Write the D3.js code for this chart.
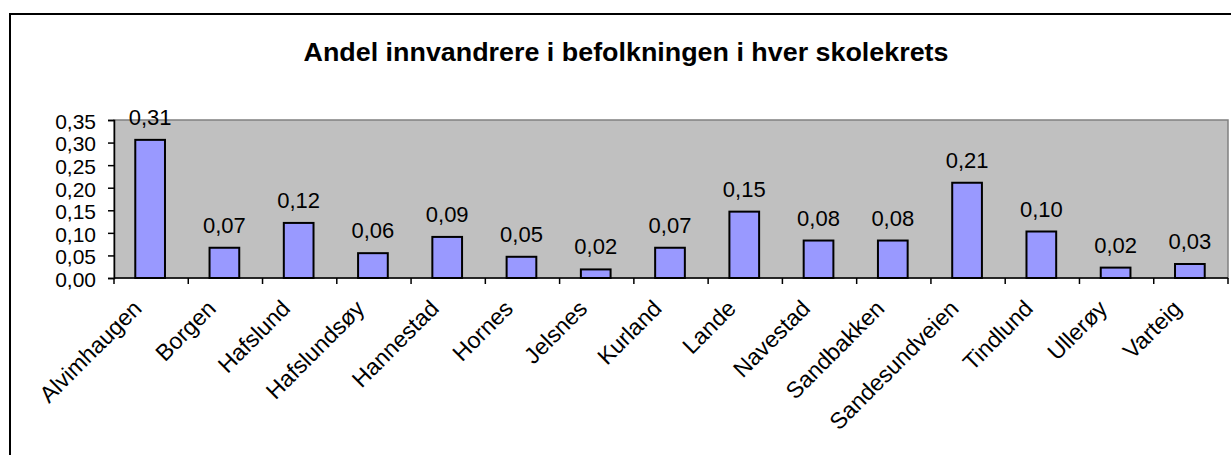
<!DOCTYPE html>
<html>
<head>
<meta charset="utf-8">
<script src="https://cdn.jsdelivr.net/npm/d3@7"></script>
<style>
  body { margin: 0; background: #fff; }
  svg text { font-family: "Liberation Sans", Arial, sans-serif; fill: #000; }
</style>
</head>
<body>
<div id="chart"></div>
<script>
// --------- data ---------- //
var categories = ["Alvimhaugen", "Borgen", "Hafslund", "Hafslundsøy", "Hannestad", "Hornes",
  "Jelsnes", "Kurland", "Lande", "Navestad", "Sandbakken", "Sandesundveien", "Tindlund", "Ullerøy", "Varteig"];
var values = [0.306, 0.067, 0.122, 0.055, 0.091, 0.047, 0.019, 0.067, 0.147, 0.083, 0.083, 0.211, 0.103, 0.023, 0.031];
var yTicks = [0, 0.05, 0.10, 0.15, 0.20, 0.25, 0.30, 0.35];
var title = "Andel innvandrere i befolkningen i hver skolekrets";

var W = 1231, H = 455;
var plot = { left: 114, right: 1228, top: 120, bottom: 278 };

function fmt(v) { return d3.format(".2f")(v).replace(".", ","); }

var svg = d3.select("#chart").append("svg")
  .attr("width", W).attr("height", H);

// outer chart frame (runs off the right / bottom edges)
svg.append("rect")
  .attr("x", 10).attr("y", 14)
  .attr("width", 1400).attr("height", 600)
  .attr("fill", "#fff").attr("stroke", "#000").attr("stroke-width", 2);

svg.append("text")
  .attr("x", 626).attr("y", 61)
  .attr("text-anchor", "middle")
  .attr("font-size", 25).attr("font-weight", "bold")
  .attr("textLength", 645).attr("lengthAdjust", "spacingAndGlyphs")
  .text(title);

var x = d3.scaleBand().domain(categories).range([plot.left, plot.right]).padding(0);
var y = d3.scaleLinear().domain([0, 0.35]).range([plot.bottom, plot.top]);

// plot area
svg.append("rect")
  .attr("x", plot.left).attr("y", plot.top)
  .attr("width", plot.right - plot.left).attr("height", plot.bottom - plot.top)
  .attr("fill", "#c0c0c0").attr("stroke", "#808080").attr("stroke-width", 1.5);

var bw = x.bandwidth() * 0.4;

svg.selectAll("rect.bar").data(values).enter().append("rect")
  .attr("class", "bar")
  .attr("x", function(d, i){ return x(categories[i]) + x.bandwidth() / 2 - bw / 2 - 1; })
  .attr("y", function(d){ return y(d); })
  .attr("width", bw)
  .attr("height", function(d){ return y(0) - y(d); })
  .attr("fill", "#9999ff").attr("stroke", "#000").attr("stroke-width", 2);

svg.selectAll("text.val").data(values).enter().append("text")
  .attr("class", "val")
  .attr("x", function(d, i){ return x(categories[i]) + x.bandwidth() / 2 - 1; })
  .attr("y", function(d){ return y(d) - 15; })
  .attr("text-anchor", "middle")
  .attr("font-size", 22)
  .text(fmt);

// y axis
var yAxis = d3.axisLeft(y).tickValues(yTicks).tickSize(6).tickPadding(12).tickFormat(fmt);
var gy = svg.append("g").attr("transform", "translate(" + plot.left + ",0)").call(yAxis);
gy.select(".domain").attr("stroke", "#000").attr("stroke-width", 1.5);
gy.selectAll(".tick line").attr("stroke", "#000").attr("stroke-width", 1.5);
gy.selectAll(".tick text").attr("font-size", 21).attr("font-family", "Liberation Sans, Arial, sans-serif").attr("dy", "0.4em");

// x axis: ticks between categories
var gx = svg.append("g").attr("transform", "translate(0," + plot.bottom + ")");
gx.append("line")
  .attr("x1", plot.left).attr("x2", plot.right)
  .attr("stroke", "#000").attr("stroke-width", 1.5);
var edges = categories.map(function(c){ return x(c); }).concat([plot.right]);
gx.selectAll("line.tk").data(edges).enter().append("line")
  .attr("class", "tk")
  .attr("x1", function(d){ return d; }).attr("x2", function(d){ return d; })
  .attr("y1", 0).attr("y2", 6)
  .attr("stroke", "#000").attr("stroke-width", 1.5);

gx.selectAll("text.cat").data(categories).enter().append("text")
  .attr("class", "cat")
  .attr("text-anchor", "end")
  .attr("font-size", 23)
  .attr("transform", function(d){
    return "translate(" + (x(d) + x.bandwidth() / 2 - 8) + ",32) rotate(-45)";
  })
  .text(function(d){ return d; });
</script>
</body>
</html>
